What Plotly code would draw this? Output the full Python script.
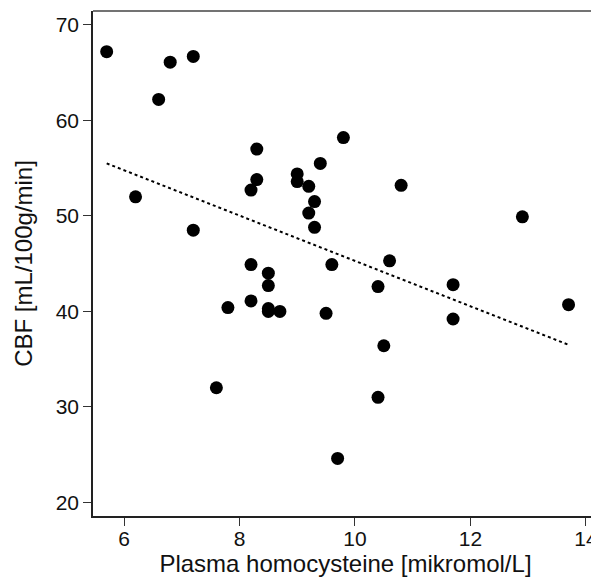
import plotly.graph_objects as go

homocysteine = [5.7, 6.8, 7.2, 6.6, 6.2, 7.2, 8.3, 8.3, 8.2, 9.0, 9.0, 8.2, 8.5, 8.5,
                9.8, 9.4, 9.2, 9.3, 9.2, 9.3, 10.8, 12.9, 9.6, 10.6, 10.4, 11.7,
                7.8, 8.2, 8.5, 8.5, 8.7, 7.6, 9.5, 11.7, 13.7, 10.5, 10.4, 9.7]
cbf = [67.2, 66.1, 66.7, 62.2, 52.0, 48.5, 57.0, 53.8, 52.7, 54.4, 53.6, 44.9, 44.0, 42.7,
       58.2, 55.5, 53.1, 51.5, 50.3, 48.8, 53.2, 49.9, 44.9, 45.3, 42.6, 42.8,
       40.4, 41.1, 40.3, 40.0, 40.0, 32.0, 39.8, 39.2, 40.7, 36.4, 31.0, 24.6]
trend_x = [5.7, 13.7]
trend_y = [55.5, 36.5]

x_ticks = [6, 8, 10, 12, 14]
y_ticks = [20, 30, 40, 50, 60, 70]

fig = go.Figure()
fig.add_trace(go.Scatter(x=trend_x, y=trend_y, mode="lines",
                         line=dict(color="black", width=2, dash="dot"),
                         showlegend=False, hoverinfo="skip"))
fig.add_trace(go.Scatter(x=homocysteine, y=cbf, mode="markers",
                         marker=dict(color="black", size=13, line=dict(width=0)),
                         showlegend=False))

font = "Liberation Sans, Arial, sans-serif"
fig.update_layout(
    width=591, height=573,
    margin=dict(l=85, r=1, t=3, b=65),
    plot_bgcolor="white", paper_bgcolor="white",
    font=dict(family=font, color="#111", size=21),
    xaxis=dict(range=[5.463, 14.21], tickvals=x_ticks, ticks="outside", ticklen=8,
               tickwidth=1.2, tickcolor="#333", showline=True, linecolor="#222", linewidth=1.5,
               showgrid=False, zeroline=False, tickfont=dict(size=21), automargin=False,
               ticklabelstandoff=-5,
               title=dict(text="Plasma homocysteine [mikromol/L]", font=dict(size=24), standoff=6)),
    yaxis=dict(range=[18.57, 71.46], tickvals=y_ticks, ticks="outside", ticklen=8,
               tickwidth=1.2, tickcolor="#333", showline=True, linecolor="#222", linewidth=1.5,
               showgrid=False, zeroline=False, tickfont=dict(size=21), automargin=False,
               title=dict(text="CBF [mL/100g/min]", font=dict(size=24), standoff=16)),
    shapes=[
        dict(type="line", xref="paper", yref="paper", x0=0, x1=1, y0=1, y1=1,
             line=dict(color="#444", width=1.5)),
        dict(type="line", xref="paper", yref="paper", x0=1, x1=1, y0=0, y1=1,
             line=dict(color="#ccc", width=1)),
    ],
)
fig.write_html("out.html")
